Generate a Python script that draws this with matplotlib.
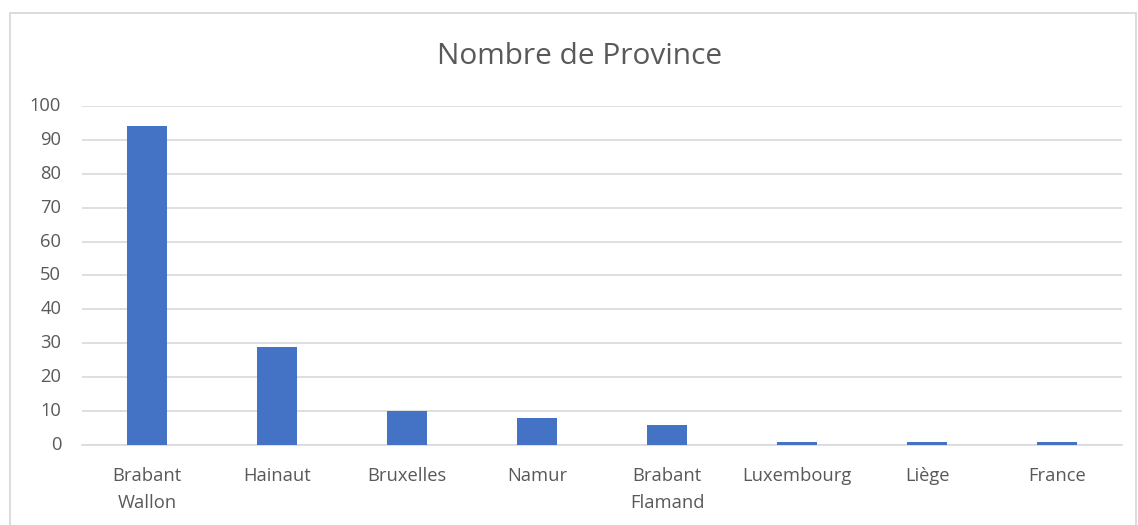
import matplotlib.pyplot as plt
from matplotlib.patches import Rectangle
import numpy as np

# Category counts (Excel-style column chart)
provinces = ["Brabant\nWallon", "Hainaut", "Bruxelles", "Namur",
             "Brabant\nFlamand", "Luxembourg", "Liège", "France"]
counts = [94, 29, 10, 8, 6, 1, 1, 1]
y_ticks = list(range(0, 101, 10))

BAR_COLOR = "#4472C4"
TEXT_COLOR = "#595959"
GRID_COLOR = "#D9D9D9"

plt.rcParams["font.family"] = ["Open Sans", "DejaVu Sans"]

fig = plt.figure(figsize=(11.38, 5.25), dpi=100)
ax = fig.add_axes([0.0721, 0.1524, 0.9139, 0.6457])

x = np.arange(len(provinces))
ax.bar(x, counts, width=0.31, color=BAR_COLOR, zorder=3)

ax.set_xlim(-0.5, len(provinces) - 0.5)
ax.set_ylim(0, 100)
ax.set_yticks(y_ticks)
ax.set_xticks(x)
ax.set_xticklabels(provinces, fontsize=13.2, color=TEXT_COLOR, linespacing=1.65)
ax.tick_params(axis="y", labelsize=13.2, labelcolor=TEXT_COLOR, length=0, pad=15)
ax.tick_params(axis="x", length=0, pad=15.5)
for lbl in ax.get_yticklabels():
    lbl.set_verticalalignment("center")

ax.grid(axis="y", color=GRID_COLOR, linewidth=1.2, zorder=0)
for side in ("top", "right", "left"):
    ax.spines[side].set_visible(False)
ax.spines["bottom"].set_color(GRID_COLOR)
ax.spines["bottom"].set_linewidth(1.2)

fig.text(0.509, 0.893, "Nombre de Province", ha="center", va="center",
         fontsize=21.5, color=TEXT_COLOR)

# light chart-area frame like the Excel export
frame = Rectangle((10 / 1138, -0.05), 1126 / 1138, 1 - 13 / 525 + 0.05,
                  transform=fig.transFigure, fill=False,
                  edgecolor=GRID_COLOR, linewidth=1.3)
fig.patches.append(frame)

fig.savefig("out.png", dpi=100)
